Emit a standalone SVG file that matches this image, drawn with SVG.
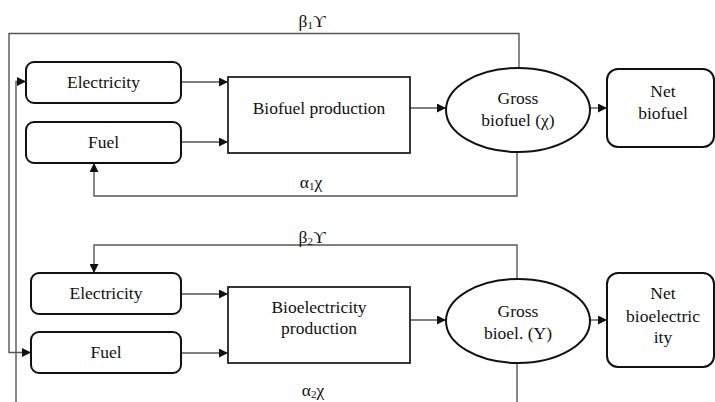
<svg xmlns="http://www.w3.org/2000/svg" width="715" height="402" viewBox="0 0 715 402">
<defs>
<marker id="ah" viewBox="0 0 10 10" refX="10" refY="5" markerWidth="10" markerHeight="9" markerUnits="userSpaceOnUse" orient="auto"><path d="M0,0 L10,5 L0,10 Z" fill="#111"/></marker>
<style>
.box{fill:#fff;stroke:#111;stroke-width:2}
.rect{fill:#fff;stroke:#222;stroke-width:1.8}
.t{font-family:"Liberation Serif","Times New Roman",serif;font-size:17.5px;fill:#111;text-anchor:middle}
.c{fill:none;stroke:#555;stroke-width:1.4}
.ca{fill:none;stroke:#555;stroke-width:1.4;marker-end:url(#ah)}
.sub{font-size:11px}
</style>
</defs>
<rect width="715" height="402" fill="#fff"/>
<g id="connectors">
<path class="ca" d="M519,68 V33.5 H9 V352.5 H31"/>
<path class="ca" d="M16,402 V81.5 H26"/>
<path class="ca" d="M181,82 H228"/>
<path class="ca" d="M181,142 H228"/>
<path class="ca" d="M410,108 H446"/>
<path class="ca" d="M590,108 H607"/>
<path class="ca" d="M517,152 V196 H94 V163"/>
<path class="ca" d="M517,279 V245 H94 V273"/>
<path class="ca" d="M181,294 H228"/>
<path class="ca" d="M181,353 H228"/>
<path class="ca" d="M410,320 H446"/>
<path class="ca" d="M590,320 H607"/>
<path class="c" d="M517,363 V402"/>
<text class="t" x="312" y="27">β<tspan class="sub" dy="2">1</tspan><tspan dy="-2">ϒ</tspan></text>
<text class="t" x="311" y="188">α<tspan class="sub" dy="2">1</tspan><tspan dy="-2">χ</tspan></text>
<text class="t" x="312" y="243">β<tspan class="sub" dy="2">2</tspan><tspan dy="-2">ϒ</tspan></text>
<text class="t" x="313" y="396">α<tspan class="sub" dy="2">2</tspan><tspan dy="-2">χ</tspan></text>
</g>
<g id="elec1"><rect class="box" x="26" y="62" width="155" height="41" rx="8"/><text class="t" x="103.5" y="88">Electricity</text></g>
<g id="fuel1"><rect class="box" x="26" y="122" width="155" height="41" rx="8"/><text class="t" x="103.5" y="148">Fuel</text></g>
<g id="biofuelprod"><rect class="rect" x="228" y="77" width="182" height="76"/><text class="t" x="319" y="114">Biofuel production</text></g>
<g id="grossbiofuel"><ellipse class="box" cx="518" cy="110" rx="72" ry="42"/><text class="t" x="518" y="104">Gross</text><text class="t" x="518" y="126">biofuel (χ)</text></g>
<g id="netbiofuel"><rect class="box" x="607" y="69" width="107" height="78" rx="11"/><text class="t" x="663" y="97">Net</text><text class="t" x="663" y="119">biofuel</text></g>
<g id="elec2"><rect class="box" x="31" y="273" width="150" height="41" rx="8"/><text class="t" x="106" y="299">Electricity</text></g>
<g id="fuel2"><rect class="box" x="31" y="332" width="150" height="41" rx="8"/><text class="t" x="106" y="358">Fuel</text></g>
<g id="bioelecprod"><rect class="rect" x="228" y="287" width="182" height="76"/><text class="t" x="319" y="313">Bioelectricity</text><text class="t" x="319" y="334">production</text></g>
<g id="grossbioel"><ellipse class="box" cx="518" cy="321" rx="72" ry="42"/><text class="t" x="518" y="317">Gross</text><text class="t" x="518" y="339">bioel. (Y)</text></g>
<g id="netbioel"><rect class="box" x="607" y="273" width="107" height="94" rx="11"/><text class="t" x="663" y="299">Net</text><text class="t" x="663" y="322">bioelectric</text><text class="t" x="663" y="343">ity</text></g>
</svg>
